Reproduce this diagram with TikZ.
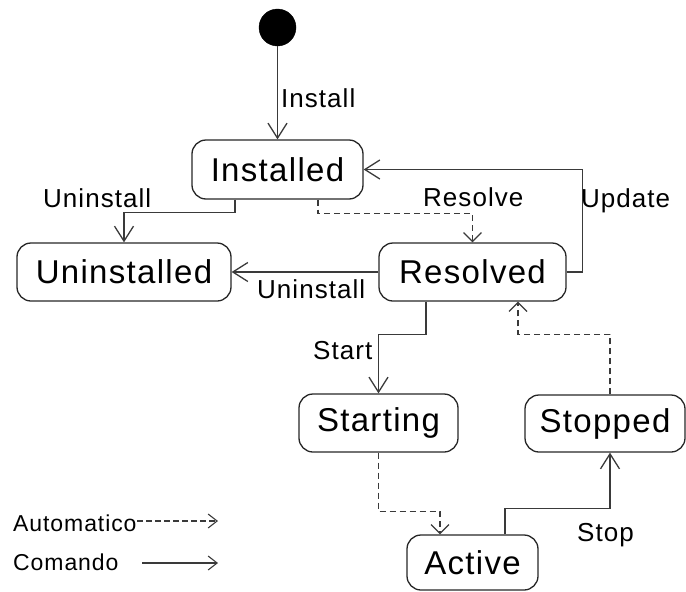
\documentclass[tikz,border=0pt]{standalone}
\usepackage{fontspec}
\setmainfont{Liberation Sans}[LetterSpace=4]
\usetikzlibrary{arrows.meta,calc}
\definecolor{lncol}{HTML}{3A3A3A}
\tikzset{
  state/.style={draw=black!85, line width=1.3pt, rounded corners=14pt, inner sep=0pt,
    font=\fontsize{33}{36}\selectfont, text=black},
  lbl/.style={inner sep=0pt, anchor=base west, font=\fontsize{26}{28}\selectfont, text=black},
  leg/.style={inner sep=0pt, anchor=base west, font=\fontsize{23}{25}\selectfont, text=black},
  cmd/.style={draw=lncol, line width=1.3pt, -{Straight Barb[length=15pt,width=19pt,line width=1.3pt]}},
  auto/.style={draw=lncol, line width=1.2pt, dash pattern=on 6pt off 4pt,
    -{Straight Barb[length=9pt,width=18pt,line width=1.2pt]}},
  legcmd/.style={draw=lncol, line width=1.1pt, -{Straight Barb[length=9pt,width=14pt,line width=1.1pt]}},
  legauto/.style={draw=lncol, line width=1.1pt, dash pattern=on 6pt off 3pt,
    -{Straight Barb[length=9pt,width=14pt,line width=1.1pt]}},
}
\begin{document}
\begin{tikzpicture}[x=1pt,y=-1pt]
\useasboundingbox (0,0) rectangle (686,592);
% states
\node[circle, fill=black, draw=black, minimum size=37pt, inner sep=0pt] (init) at (277.5,27.5) {};
\node[state, minimum width=171pt, minimum height=59pt] (inst) at (277.5,169.5) {Installed};
\node[state, minimum width=214pt, minimum height=58pt] (unin) at (124,272) {Uninstalled};
\node[state, minimum width=187pt, minimum height=58pt] (reso) at (472.5,272) {Resolved};
\node[state, minimum width=159pt, minimum height=58pt] (star) at (378.5,423) {Starting};
\node[state, minimum width=160pt, minimum height=57pt] (stop) at (605,423.5) {Stopped};
\node[state, minimum width=131pt, minimum height=55pt] (act) at (472.5,562.5) {Active};
% connectors
\draw[cmd] (init.south) -- (init.south |- inst.north);
\draw[cmd] ($(inst.south)+(-42.5,0)$) -- ++(0,13) -| (unin.north);
\draw[auto] ($(inst.south)+(40.5,0)$) -- ++(0,14) -| (reso.north);
\draw[cmd] (reso.east) -- ++(16,0) |- (inst.east);
\draw[cmd] (reso.west) -- (unin.east);
\draw[cmd] ($(reso.south)+(-46.5,0)$) -- ++(0,33) -| (star.north);
\draw[auto] ($(stop.north)+(5,0)$) -- ++(0,-60) -| ($(reso.south)+(45.5,0)$);
\draw[auto] (star.south) -- ++(0,59) -| ($(act.north)+(-32.5,0)$);
\draw[cmd] ($(act.north)+(32.5,0)$) -- ++(0,-26) -| ($(stop.south)+(5,0)$);
% labels
\node[lbl] (linstall) at (281,107) {Install};
\node[lbl] (lunin1) at (43,207) {Uninstall};
\node[lbl] (lresolve) at (423,206) {Resolve};
\node[lbl] (lupdate) at (581,207) {Update};
\node[lbl] (lunin2) at (257,298) {Uninstall};
\node[lbl] (lstart) at (313,359) {Start};
\node[lbl] (lstop) at (577,541) {Stop};
% legend
\node[leg] (lauto) at (13,531) {Automatico};
\node[leg] (lcmd) at (13,570) {Comando};
\coordinate (a1) at (137,521);
\coordinate (a2) at (218,521);
\coordinate (c1) at (142,563);
\coordinate (c2) at (218,563);
\draw[legauto] (a1) -- (a2);
\draw[legcmd] (c1) -- (c2);
\end{tikzpicture}
\end{document}
